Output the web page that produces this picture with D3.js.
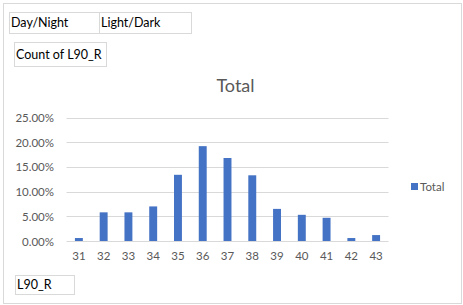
<!DOCTYPE html>
<html><head><meta charset="utf-8">
<script src="https://cdn.jsdelivr.net/npm/d3@7"></script>
<style>html,body{margin:0;padding:0;background:#fff;}svg{display:block;}</style>
</head><body>
<script>
const categories = ["31","32","33","34","35","36","37","38","39","40","41","42","43"];
const values = [0.006,0.058,0.058,0.070,0.134,0.192,0.168,0.133,0.065,0.053,0.047,0.006,0.012];
const yTicks = [0,0.05,0.10,0.15,0.20,0.25];
const seriesName = "Total";

const W=463,H=305;
const font = "Lato, 'Open Sans', sans-serif";
const svg = d3.select("body").append("svg").attr("width",W).attr("height",H);
svg.append("rect").attr("x",3.5).attr("y",3.5).attr("width",458).attr("height",300)
  .attr("fill","#fff").attr("stroke","#d9d9d9");

const x = d3.scaleBand().domain(categories).range([66.5,388.5]).paddingInner(0.68).paddingOuter(0.34);
const y = d3.scaleLinear().domain([0,0.25]).range([241,117.5]);

const g = svg.append("g");
g.selectAll("line.grid").data(yTicks).join("line").attr("class","grid")
  .attr("x1",66.5).attr("x2",388.5).attr("y1",d=>Math.round(y(d))+0.5).attr("y2",d=>Math.round(y(d))+0.5)
  .attr("stroke","#d9d9d9").attr("stroke-width",1);

g.selectAll("rect.bar").data(values).join("rect").attr("class","bar")
  .attr("x",(d,i)=>x(categories[i])).attr("width",x.bandwidth())
  .attr("y",d=>y(d)).attr("height",d=>y(0)-y(d)).attr("fill","#4472c4");

const yAxis = d3.axisLeft(y).tickValues(yTicks).tickFormat(d3.format(".2%")).tickSize(0).tickPadding(0);
const ya = svg.append("g").attr("transform","translate(54,0)").call(yAxis);
ya.select(".domain").remove();
ya.selectAll("text").attr("font-family",font).attr("font-size",11.5).attr("fill","#595959").attr("dy","0.35em");

const xAxis = d3.axisBottom(x).tickSize(0).tickPadding(0);
const xa = svg.append("g").attr("transform","translate(0,252)").call(xAxis);
xa.select(".domain").remove();
xa.selectAll("text").attr("font-family",font).attr("font-size",11.5).attr("fill","#595959").attr("dy","0.71em");

svg.append("text").attr("x",235.5).attr("y",92).attr("text-anchor","middle")
  .attr("font-family",font).attr("font-size",18).attr("fill","#595959").text("Total");

svg.append("rect").attr("x",411).attr("y",183).attr("width",7).attr("height",7).attr("fill","#4472c4");
svg.append("text").attr("x",420).attr("y",190.5).attr("font-family",font).attr("font-size",11.5)
  .attr("fill","#595959").text(seriesName);

function box(x0,y0,w,h,txt){
  svg.append("rect").attr("x",x0+0.5).attr("y",y0+0.5).attr("width",w).attr("height",h)
    .attr("fill","#fff").attr("stroke","#d9d9d9");
  svg.append("text").attr("x",x0+2).attr("y",y0+h/2+4.5).attr("font-family",font).attr("font-size",12.5)
    .attr("fill","#000").text(txt);
}
box(9,12,90,21,"Day/Night");
box(99,12,92,21,"Light/Dark");
box(14,42,92,24,"Count of L90_R");
box(15,275,59,19,"L90_R");
</script>
</body></html>
